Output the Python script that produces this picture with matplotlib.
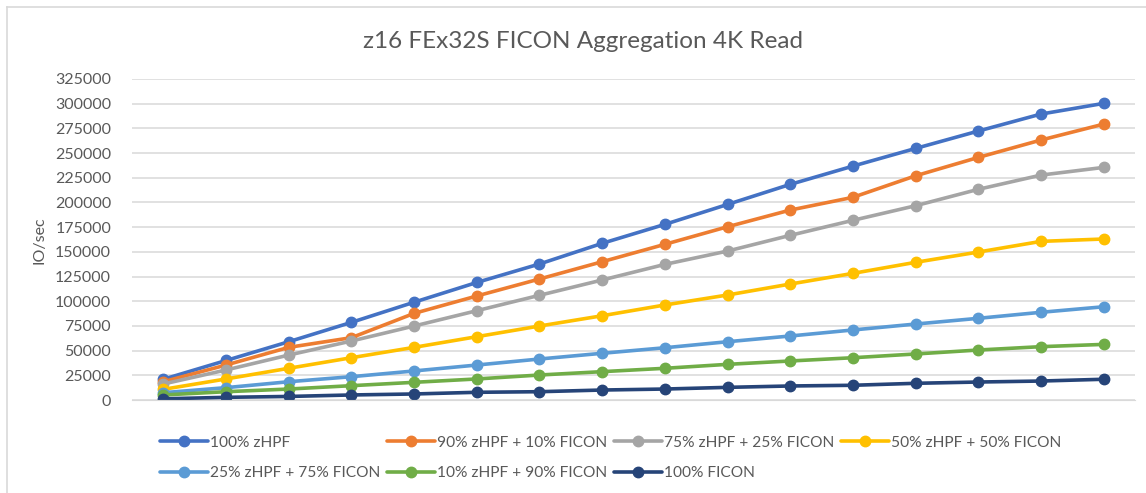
import matplotlib.pyplot as plt
from matplotlib.lines import Line2D

plt.rcParams["font.family"] = ["Lato", "DejaVu Sans"]

title = "z16 FEx32S FICON Aggregation 4K Read"
y_label = "IO/sec"

# one point per step, no category labels on the x axis
steps = list(range(16))

zhpf_100 = [21000, 40000, 59000, 78600, 99000, 119000, 137700, 158600,
            177800, 198000, 218300, 236800, 254700, 272300, 289500, 300300]
zhpf_90 = [18500, 35400, 53300, 63100, 87700, 105300, 122500, 140000,
           157600, 175400, 192300, 205200, 227000, 245600, 263200, 279300]
zhpf_75 = [16200, 30400, 45500, 59700, 74900, 90400, 106000, 121500,
           137300, 150800, 166700, 181900, 196700, 213300, 227700, 235500]
zhpf_50 = [10800, 21300, 32100, 42800, 53300, 64100, 74900, 85300,
           96200, 106300, 117400, 128200, 139400, 149800, 160600, 163000]
zhpf_25 = [7400, 12500, 18500, 23600, 29400, 35400, 41500, 47300,
           52900, 59000, 64800, 70900, 76900, 82700, 88800, 94400]
zhpf_10 = [5100, 8400, 11100, 14500, 17900, 21300, 25300, 28700,
           32100, 36100, 39500, 42800, 46600, 50600, 54000, 56300]
ficon_100 = [1200, 2700, 3600, 5100, 6100, 7800, 8400, 10100,
             11100, 12800, 14200, 14900, 16900, 18200, 19200, 21000]

series = [
    ("100% zHPF", zhpf_100, "#4472C4"),
    ("90% zHPF + 10% FICON", zhpf_90, "#ED7D31"),
    ("75% zHPF + 25% FICON", zhpf_75, "#A5A5A5"),
    ("50% zHPF + 50% FICON", zhpf_50, "#FFC000"),
    ("25% zHPF + 75% FICON", zhpf_25, "#5B9BD5"),
    ("10% zHPF + 90% FICON", zhpf_10, "#70AD47"),
    ("100% FICON", ficon_100, "#264478"),
]

text_color = "#595959"
grid_color = "#D9D9D9"

fig = plt.figure(figsize=(11.46, 4.93), dpi=100)
ax = fig.add_axes([132 / 1146, 1 - 400 / 493, 1003 / 1146, 321 / 493])

handles = []
for label, values, color in series:
    (h,) = ax.plot(steps, values, color=color, linewidth=2.6,
                   marker="o", markersize=7.5, label=label,
                   solid_capstyle="round")
    handles.append(h)

ax.set_xlim(-0.5, 15.5)
ax.set_ylim(0, 325000)
ax.set_yticks(range(0, 325001, 25000))
ax.set_xticks([])
ax.grid(True, axis="y", color=grid_color, linewidth=1.1)
ax.set_axisbelow(True)
for s in ax.spines.values():
    s.set_visible(False)
ax.spines["bottom"].set_visible(True)
ax.spines["bottom"].set_color(grid_color)
ax.tick_params(axis="y", length=0, pad=15, labelsize=11.5, labelcolor=text_color)

fig.text(40 / 1146, 1 - 240 / 493, y_label, rotation=90, ha="center",
         va="center", fontsize=11.5, color=text_color)
fig.text(583 / 1146, 1 - 41 / 493, title, ha="center", va="center",
         fontsize=17.5, color=text_color)

# legend filled row by row, matplotlib fills by column
order = [0, 4, 1, 5, 2, 6, 3]
fig.legend([handles[i] for i in order], [series[i][0] for i in order],
           ncol=4, loc="upper left", bbox_to_anchor=(152 / 1146, 1 - 428 / 493),
           frameon=False, borderpad=0, fontsize=11.2, handlelength=3.1,
           handletextpad=0.15, columnspacing=0.4, labelspacing=1.05,
           labelcolor=text_color)

# light frame on top and left edge
fig.add_artist(Line2D([6.5 / 1146, 6.5 / 1146], [0, 1 - 6.5 / 493],
                      transform=fig.transFigure, color=grid_color, linewidth=1.2))
fig.add_artist(Line2D([6.5 / 1146, 1], [1 - 6.5 / 493, 1 - 6.5 / 493],
                      transform=fig.transFigure, color=grid_color, linewidth=1.2))

fig.savefig("out.png", dpi=100)
